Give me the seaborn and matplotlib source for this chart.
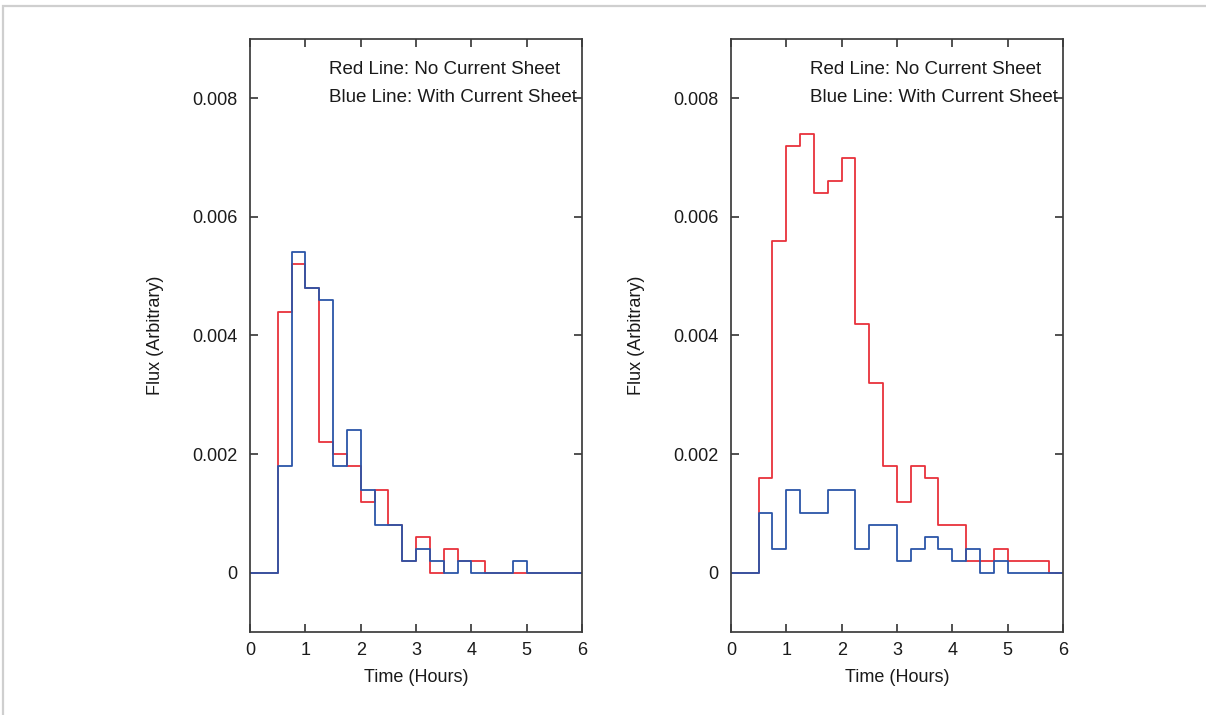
import numpy as np
import pandas as pd
import matplotlib
matplotlib.use("Agg")
import matplotlib.pyplot as plt
from matplotlib.patches import Rectangle
from matplotlib.ticker import FixedLocator, FuncFormatter
import seaborn as sns

# 15-minute time bins (hours)
bin_width = 0.25
time_range = (0.0, 6.0)
bin_centers = np.arange(time_range[0], time_range[1], bin_width) + bin_width / 2

# Flux per bin, case 1
flux_a_no_sheet = [0, 0, 0.0044, 0.0052, 0.0048, 0.0022, 0.0020, 0.0018,
                   0.0012, 0.0014, 0.0008, 0.0002, 0.0006, 0, 0.0004, 0.0002,
                   0.0002, 0, 0, 0, 0, 0, 0, 0]
flux_a_sheet = [0, 0, 0.0018, 0.0054, 0.0048, 0.0046, 0.0018, 0.0024,
                0.0014, 0.0008, 0.0008, 0.0002, 0.0004, 0.0002, 0, 0.0002,
                0, 0, 0, 0.0002, 0, 0, 0, 0]

# Flux per bin, case 2
flux_b_no_sheet = [0, 0, 0.0016, 0.0056, 0.0072, 0.0074, 0.0064, 0.0066,
                   0.0070, 0.0042, 0.0032, 0.0018, 0.0012, 0.0018, 0.0016, 0.0008,
                   0.0008, 0.0002, 0.0002, 0.0004, 0.0002, 0.0002, 0.0002, 0]
flux_b_sheet = [0, 0, 0.0010, 0.0004, 0.0014, 0.0010, 0.0010, 0.0014,
                0.0014, 0.0004, 0.0008, 0.0008, 0.0002, 0.0004, 0.0006, 0.0004,
                0.0002, 0.0004, 0, 0.0002, 0, 0, 0, 0]

y_ticks = [0, 0.002, 0.004, 0.006, 0.008]
x_ticks = [0, 1, 2, 3, 4, 5, 6]
legend_lines = ["Red Line: No Current Sheet", "Blue Line: With Current Sheet"]

RED = "#e8323c"
BLUE = "#2b55a8"
SPINE = "#3c3c3c"

sns.set_style("ticks")
plt.rcParams["font.family"] = ["Liberation Sans", "DejaVu Sans"]
plt.rcParams["font.size"] = 13

fig = plt.figure(figsize=(12.06, 7.15), dpi=100)

# thin page border (top and left edges)
fig.patches.append(Rectangle((3 / 1206, -0.2), 1.5, 1.2 - 6 / 715,
                             transform=fig.transFigure, fill=False,
                             edgecolor="#cfcfcf", linewidth=1.6, zorder=0))

panels = [
    (0.2073, flux_a_no_sheet, flux_a_sheet),
    (0.6061, flux_b_no_sheet, flux_b_sheet),
]


def step_hist(ax, values, color):
    df = pd.DataFrame({"time": bin_centers, "flux": values})
    sns.histplot(data=df, x="time", weights="flux", binwidth=bin_width,
                 binrange=time_range, element="step", fill=False,
                 color=color, linewidth=1.3, ax=ax)


for left, red_vals, blue_vals in panels:
    ax = fig.add_axes([left, 0.1161, 0.2753, 0.8294])
    step_hist(ax, red_vals, RED)
    step_hist(ax, blue_vals, BLUE)

    ax.set_xlim(0, 6)
    ax.set_ylim(-0.001, 0.009)
    ax.xaxis.set_major_locator(FixedLocator(x_ticks))
    ax.yaxis.set_major_locator(FixedLocator(y_ticks))
    ax.yaxis.set_major_formatter(FuncFormatter(lambda v, p: f"{v:g}"))
    ax.xaxis.set_major_formatter(FuncFormatter(lambda v, p: f"{v:g}"))

    for s in ax.spines.values():
        s.set_visible(True)
        s.set_color(SPINE)
        s.set_linewidth(1.25)

    ax.tick_params(axis="both", which="major", direction="in", length=6,
                   width=1.25, color=SPINE, labelsize=13, labelcolor="#1a1a1a",
                   top=True, right=True)
    ax.tick_params(axis="x", pad=7)
    ax.tick_params(axis="y", pad=9)

    ax.set_xlabel("Time (Hours)", fontsize=13, color="#1a1a1a")
    ax.set_ylabel("Flux (Arbitrary)", fontsize=13, color="#1a1a1a")
    ax.xaxis.set_label_coords(0.5, -0.062)
    ax.xaxis.label.set_va("top")
    ax.yaxis.set_label_coords(-0.26, 0.5)

    ax.text(0.238, 0.949, legend_lines[0], transform=ax.transAxes,
            ha="left", va="center", fontsize=13.5, color="#1a1a1a")
    ax.text(0.238, 0.9005, legend_lines[1], transform=ax.transAxes,
            ha="left", va="center", fontsize=13.5, color="#1a1a1a")

fig.savefig("out.png", dpi=100, facecolor="white")
